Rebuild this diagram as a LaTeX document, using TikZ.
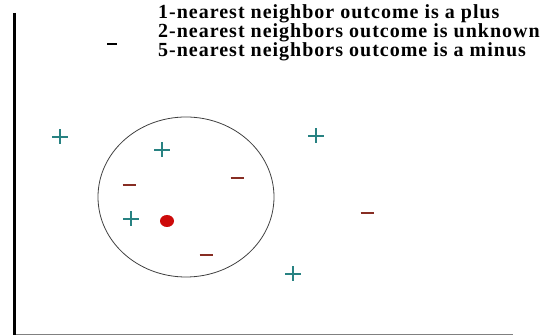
\documentclass[tikz,border=0pt]{standalone}
\usepackage{fontspec}
\setmainfont{Liberation Serif}
\usetikzlibrary{positioning}
\definecolor{teal}{RGB}{40,130,130}
\definecolor{brown}{RGB}{135,45,35}
\definecolor{red}{RGB}{205,10,10}

\tikzset{
  plusmark/.pic={\draw[teal, line width=1.8pt] (-8,0)--(8,0) (0,-7.5)--(0,7.5);},
  minusmark/.pic={\draw[brown, line width=2.6pt] (-6.5,0)--(6.5,0);}
}

\begin{document}
\begin{tikzpicture}[x=1pt, y=-1pt]
\useasboundingbox (0,0) rectangle (552,336);
% axes
\coordinate (top) at (14,13);
\coordinate (origin) at (14,335);
\coordinate (right) at (513,335);
\draw[gray, line width=1pt] (origin)--(right);
\draw[black, line width=3pt] (top)--(origin);
% legend text
\node[anchor=north west, inner sep=0pt, align=left,
      font=\fontsize{20}{18}\selectfont\bfseries\addfontfeatures{LetterSpace=5}] (legend) at (158,4)
  {1-nearest neighbor outcome is a plus\\
   2-nearest neighbors outcome is unknown\\
   5-nearest neighbors outcome is a minus};
\draw[black, line width=2.4pt] (107,44)--(117,44);
% neighbourhood
\draw[black!75, line width=0.8pt] (186,197) ellipse [x radius=88, y radius=80];
\fill[red] (167,221) ellipse [x radius=7, y radius=6];
% plus samples
\pic at (60,137) {plusmark};
\pic at (162,150) {plusmark};
\pic at (131,219) {plusmark};
\pic at (316,136) {plusmark};
\pic at (293,274) {plusmark};
% minus samples
\pic at (129,185) {minusmark};
\pic at (237,178) {minusmark};
\pic at (206,255) {minusmark};
\pic at (367,213) {minusmark};
\end{tikzpicture}
\end{document}
